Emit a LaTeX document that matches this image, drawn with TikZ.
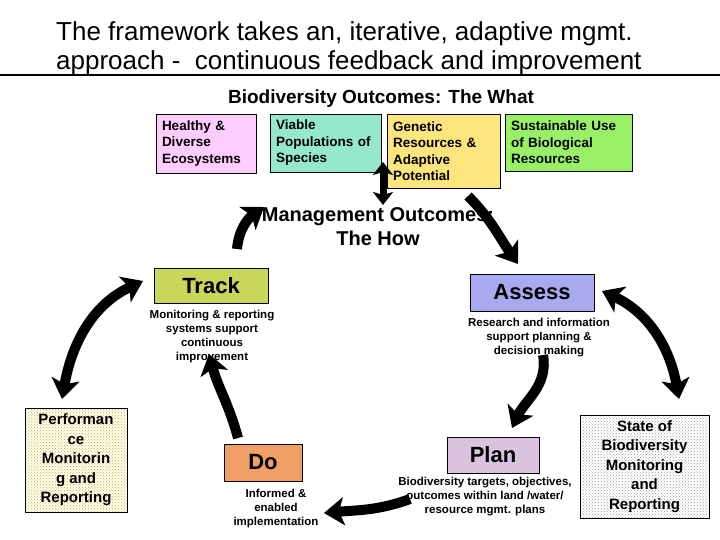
\documentclass[tikz,border=0pt]{standalone}
\usepackage{fontspec}
\setmainfont{Liberation Sans}
\usetikzlibrary{arrows.meta,patterns}
\definecolor{cpink}{HTML}{FFCCFF}
\definecolor{cteal}{HTML}{96E8CC}
\definecolor{cyel}{HTML}{FCE57C}
\definecolor{cgreen}{HTML}{99F066}
\definecolor{ctrack}{HTML}{C8D65A}
\definecolor{cassess}{HTML}{A9A9F0}
\definecolor{cdo}{HTML}{F0A064}
\definecolor{cplan}{HTML}{D9C3DE}
\definecolor{cperf}{HTML}{FFFFE4}
\definecolor{cperfdot}{HTML}{B8AE80}
\definecolor{cstatedot}{HTML}{A0A0A0}
\begin{document}
\begin{tikzpicture}[x=1pt,y=1pt,
  box/.style={draw=black, line width=0.8pt, text=black},
  topbox/.style={box, inner xsep=6pt, inner ysep=0pt, align=left,
    font=\bfseries\fontsize{13.5}{16.5}\selectfont},
  stage/.style={box, inner sep=0pt, font=\bfseries\fontsize{22}{26}\selectfont},
  desc/.style={align=center, inner sep=0pt, font=\bfseries\fontsize{11.5}{14}\selectfont},
  side/.style={box, inner sep=0pt, align=center, font=\bfseries\fontsize{15}{19.5}\selectfont},
  bigarrow/.style={line width=10pt, -{Stealth[length=20pt,width=28pt,inset=5pt]}},
  dblarrow/.style={line width=10pt, {Stealth[length=20pt,width=28pt,inset=5pt]}-{Stealth[length=20pt,width=28pt,inset=5pt]}},
  vdblarrow/.style={line width=7pt, {Stealth[length=13pt,width=20pt,inset=3pt]}-{Stealth[length=13pt,width=20pt,inset=3pt]}}
]
\useasboundingbox (0,0) rectangle (720,-540);
\fill[white] (0,0) rectangle (720,-540);

% title
\node[anchor=west, align=left, inner sep=0pt, font=\fontsize{26}{29}\selectfont] (title) at (56,-48)
  {The framework takes an, iterative, adaptive mgmt.\\approach -\ \ continuous feedback and improvement};
\coordinate (hl) at (0,-75);
\coordinate (hr) at (720,-75);
\draw[line width=1.2pt] (hl) -- (hr);

\node[font=\bfseries\fontsize{19}{22}\selectfont, inner sep=0pt] (what) at (381,-99) {Biodiversity Outcomes: The What};

% top boxes
\node[topbox, fill=cpink, text width=88pt, minimum height=59pt] (b1) at (206,-143.5) {Healthy \&\\Diverse\\Ecosystems};
\node[topbox, fill=cteal, text width=99pt, minimum height=58pt] (b2) at (325.5,-143) {Viable\\Populations of\\Species};
\node[topbox, fill=cyel, text width=101pt, minimum height=74pt] (b3) at (443.5,-151) {Genetic\\Resources \&\\Adaptive\\Potential};
\node[topbox, fill=cgreen, text width=115pt, minimum height=57pt] (b4) at (568.5,-142.5) {Sustainable Use\\of Biological\\Resources};

% management label
\node[align=center, inner sep=0pt, font=\bfseries\fontsize{20}{24}\selectfont] (how) at (378,-227) {Management Outcomes:\\The How};

% stage boxes
\node[stage, fill=ctrack, minimum width=114pt, minimum height=35pt] (track) at (211,-285.5) {Track};
\node[stage, fill=cassess, minimum width=124pt, minimum height=37pt] (assess) at (532,-292.5) {Assess};
\node[stage, fill=cdo, minimum width=78pt, minimum height=37pt] (do) at (263,-462.5) {Do};
\node[stage, fill=cplan, minimum width=92pt, minimum height=36pt] (plan) at (493,-455) {Plan};

% descriptions
\node[desc] (trackd) at (212,-337) {Monitoring \& reporting\\systems support\\continuous\\improvement};
\node[desc] (assessd) at (539,-338) {Research and information\\support planning \&\\decision making};
\node[desc] (dod) at (276,-509) {Informed \&\\enabled\\implementation};
\node[desc] (pland) at (485,-496.5) {Biodiversity targets, objectives,\\outcomes within land /water/\\resource mgmt. plans};

% side boxes
\node[side, preaction={fill=cperf}, pattern=crosshatch dots, pattern color=cperfdot,
  minimum width=102pt, minimum height=104pt] (perf) at (76,-460) {Performan\\ce\\Monitorin\\g and\\Reporting};
\node[side, preaction={fill=white}, pattern=crosshatch dots, pattern color=cstatedot,
  minimum width=129pt, minimum height=103pt] (state) at (644.5,-466.5) {State of\\Biodiversity\\Monitoring\\and\\Reporting};

% arrow end points
\coordinate (vtop) at (383,-162);
\coordinate (vbot) at (383,-205);
\coordinate (t1) at (237,-249);
\coordinate (h1) at (264,-207);
\coordinate (t2) at (468,-196);
\coordinate (h2) at (518,-264);
\coordinate (t3) at (543,-355);
\coordinate (h3) at (512,-428);
\coordinate (t4) at (410,-499);
\coordinate (h4) at (324,-513);
\coordinate (t5) at (238,-438);
\coordinate (h5) at (209,-354);
\coordinate (l1) at (62,-399);
\coordinate (l2) at (143,-281);
\coordinate (r1) at (602,-291);
\coordinate (r2) at (679,-399);

\draw[vdblarrow] (vtop) -- (vbot);
\draw[bigarrow] (t1) to[out=85,in=215] (h1);
\draw[bigarrow] (t2) to[out=-45,in=125] (h2);
\draw[bigarrow] (t3) to[out=-80,in=65] (h3);
\draw[bigarrow] (t4) to[out=200,in=5] (h4);
\draw[bigarrow] (t5) to[out=105,in=-75] (h5);
\draw[dblarrow] (l1) to[out=80,in=205] (l2);
\draw[dblarrow] (r1) to[out=-25,in=100] (r2);
\end{tikzpicture}
\end{document}
